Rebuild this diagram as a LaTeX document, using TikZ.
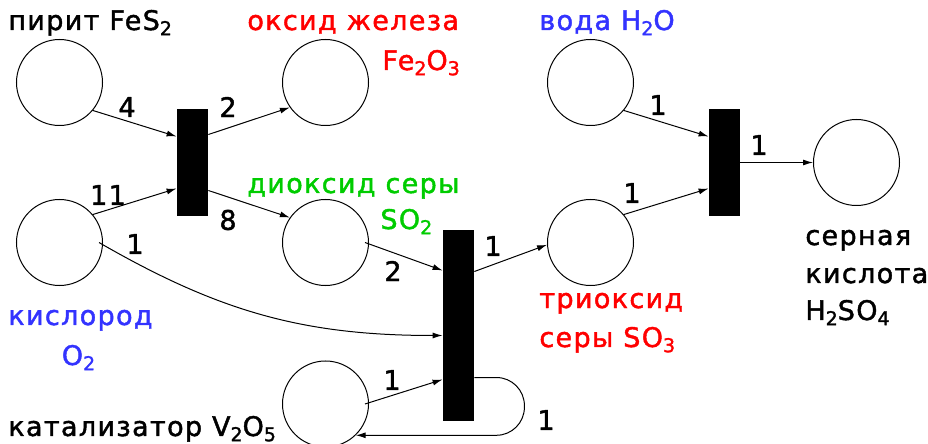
\documentclass[tikz,border=0pt]{standalone}
\usepackage{fontspec}
\setmainfont{DejaVu Sans}[LetterSpace=5, FakeBold=1.6]
\usepackage{xcolor}
\usepackage{tikz}
\usetikzlibrary{arrows.meta}

\definecolor{chemred}{RGB}{255,0,0}
\definecolor{chemgreen}{RGB}{0,204,0}
\definecolor{chemblue}{RGB}{51,51,255}

% lowered index in formulas
\newcommand{\ix}[1]{\raisebox{-0.35ex}{\fontsize{9.5}{10}\selectfont #1}}

\begin{document}
\begin{tikzpicture}[
  x=0.5pt, y=-0.5pt,
  place/.style={draw, circle, line width=0.5pt, minimum size=43pt, inner sep=0pt},
  trans/.style={fill=black, minimum width=15.5pt, inner sep=0pt},
  flow/.style={-{Latex[length=5pt,width=3pt]}, line width=0.5pt},
  wt/.style={inner sep=0pt, font=\fontsize{13.5}{14}\selectfont},
  txt/.style={anchor=base west, inner sep=0pt, font=\fontsize{13.5}{14}\selectfont},
]
  \useasboundingbox (0,0) rectangle (928,444);

  % places
  \node[place] (pyr)  at (59.5,82.5)  {};
  \node[place] (oxy)  at (59.5,242.5) {};
  \node[place] (feo)  at (325.5,82.5) {};
  \node[place] (so2)  at (325.5,242.5) {};
  \node[place] (cat)  at (325.5,404)  {};
  \node[place] (wat)  at (590.5,82.5) {};
  \node[place] (so3)  at (590.5,242.5) {};
  \node[place] (acid) at (856.5,162.5) {};

  % transitions
  \node[trans, minimum height=53.5pt] (t1) at (192.5,162.5) {};
  \node[trans, minimum height=95.5pt] (t2) at (458.5,325.5) {};
  \node[trans, minimum height=53.5pt] (t3) at (724.5,162.5) {};

  % arcs
  \draw[flow] (pyr.-40) -- ([yshift=13pt]t1.west);
  \draw[flow] (oxy.40) -- ([yshift=-13pt]t1.west);
  \draw[flow] ([yshift=14pt]t1.east) -- (feo.215);
  \draw[flow] ([yshift=-14pt]t1.east) -- (so2.145);
  \draw[flow] ([xshift=-2pt]so2.east) -- ([yshift=27.5pt]t2.west);
  \draw[flow] ([xshift=-2pt]oxy.east) to[out=-30, in=180] ([yshift=-5pt]t2.west);
  \draw[flow] ([xshift=-2pt]cat.east) -- ([yshift=-27pt]t2.west);
  \draw[flow] ([yshift=27pt]t2.east) -- (so3.183);
  \draw[flow, rounded corners=14pt] ([yshift=-26pt]t2.east) -- ++(25pt,0) |- (cat.-46);
  \draw[flow] (wat.-40) -- ([yshift=13pt]t3.west);
  \draw[flow] (so3.40) -- ([yshift=-13pt]t3.west);
  \draw[flow] (t3.east) -- (acid.west);

  % weights
  \node[wt] (w1)  at (127,107) {4};
  \node[wt] (w2)  at (108,195) {11};
  \node[wt] (w3)  at (228,107) {2};
  \node[wt] (w4)  at (228,220) {8};
  \node[wt] (w5)  at (393,271) {2};
  \node[wt] (w6)  at (135,244) {1};
  \node[wt] (w7)  at (493,246) {1};
  \node[wt] (w8)  at (392,380) {1};
  \node[wt] (w9)  at (546,420) {1};
  \node[wt] (w10) at (658,105) {1};
  \node[wt] (w11) at (632,193) {1};
  \node[wt] (w12) at (759,145) {1};

  % substance names
  \node[txt] (npyr) at (8,30) {пирит FeS\ix{2}};
  \node[txt, text=chemred] (nfeo1) at (247,30) {оксид железа};
  \node[txt, text=chemred] (nfeo2) at (382,70) {Fe\ix{2}O\ix{3}};
  \node[txt, text=chemgreen] (nso2a) at (247,193) {диоксид серы};
  \node[txt, text=chemgreen] (nso2b) at (380,229) {SO\ix{2}};
  \node[txt, text=chemblue] (noxya) at (8,325) {кислород};
  \node[txt, text=chemblue, anchor=base] (noxyb) at (78.5,365) {O\ix{2}};
  \node[txt] (ncat) at (8,436) {катализатор V\ix{2}O\ix{5}};
  \node[txt, text=chemblue] (nwat) at (539,30) {вода H\ix{2}O};
  \node[txt, text=chemred] (nso3a) at (539,308) {триоксид};
  \node[txt, text=chemred] (nso3b) at (539,347) {серы SO\ix{3}};
  \node[txt] (nacida) at (805,245) {серная};
  \node[txt] (nacidb) at (805,283) {кислота};
  \node[txt] (nacidc) at (805,320) {H\ix{2}SO\ix{4}};
\end{tikzpicture}
\end{document}
